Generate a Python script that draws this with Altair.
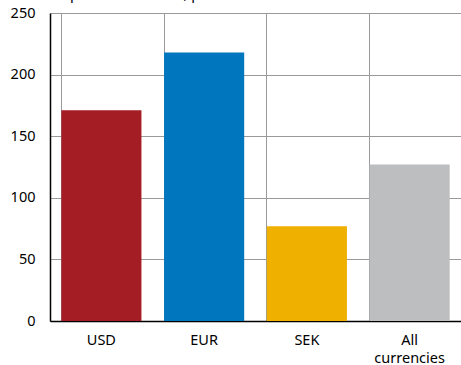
import altair as alt
import pandas as pd

categories = ["USD", "EUR", "SEK", "All currencies"]
values = [171, 218, 77, 127]
colors = ["#A51D24", "#0076BE", "#F0B000", "#BDBEC0"]
title_text = "Spread to interest, per cent"

df = pd.DataFrame({"cat": categories, "val": values})

FONT = "Noto Sans"

x = alt.X(
    "cat:N",
    sort=categories,
    scale=alt.Scale(paddingInner=0.22, paddingOuter=0.11),
    axis=alt.Axis(
        title=None,
        labelAngle=0,
        ticks=False,
        grid=True,
        bandPosition=0,
        gridColor="#9a9a9a",
        gridWidth=1,
        domainColor="#000000",
        domainWidth=1.5,
        labelPadding=12,
        labelFontSize=14.5,
        labelFont=FONT,
        labelColor="#000000",
        labelLineHeight=18,
        labelExpr="datum.label == 'All currencies' ? ['All', 'currencies'] : datum.label",
    ),
)

y = alt.Y(
    "val:Q",
    scale=alt.Scale(domain=[0, 250]),
    axis=alt.Axis(
        title=None,
        values=[0, 50, 100, 150, 200, 250],
        ticks=False,
        gridColor="#9a9a9a",
        gridWidth=1,
        domainColor="#000000",
        domainWidth=1.5,
        labelPadding=15,
        labelFontSize=14.5,
        labelFont=FONT,
        labelColor="#000000",
    ),
)

bars = alt.Chart(df).mark_bar().encode(
    x=x,
    y=y,
    color=alt.Color("cat:N", scale=alt.Scale(domain=categories, range=colors), legend=None),
)

title = alt.Chart(pd.DataFrame({"t": [title_text]})).mark_text(
    align="left", baseline="alphabetic", fontSize=14.5, font=FONT, color="#000000"
).encode(x=alt.value(12), y=alt.value(-14), text="t:N")

chart = alt.layer(bars, title).properties(
    width=411,
    height=308,
    autosize=alt.AutoSizeParams(type="none"),
    padding={"left": 50, "top": 13, "right": 0, "bottom": 44},
).configure_view(stroke=None)

chart.save("out.html", embed_options={"renderer": "svg", "actions": False})
